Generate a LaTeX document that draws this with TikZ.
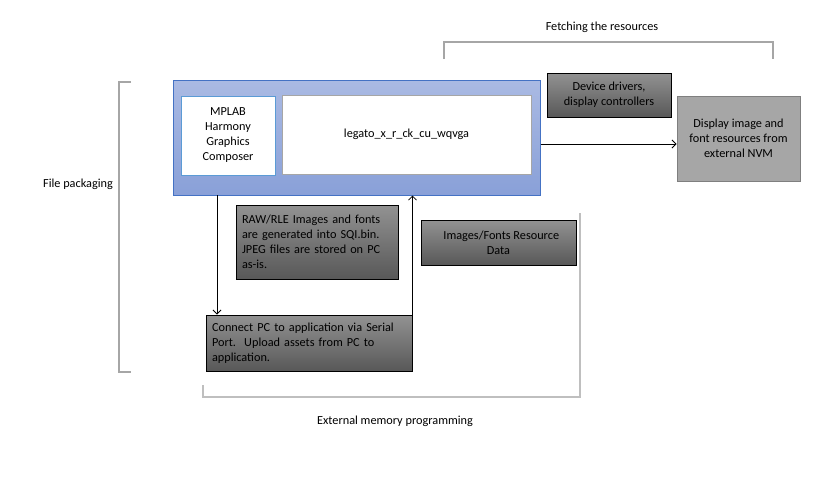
\documentclass[tikz,border=0pt]{standalone}
\usepackage{fontspec}
\setmainfont{Carlito}
\usetikzlibrary{arrows.meta}

\newlength{\du}
\setlength{\du}{0.75pt}

\definecolor{harmonyblue}{RGB}{68,114,196}
\definecolor{harmonytop}{RGB}{170,186,227}
\definecolor{harmonybot}{RGB}{137,160,216}
\definecolor{composerline}{RGB}{91,155,213}
\definecolor{darktop}{RGB}{146,146,146}
\definecolor{darkbot}{RGB}{88,88,88}
\definecolor{nvmfill}{RGB}{166,166,166}
\definecolor{nvmline}{RGB}{127,127,127}
\definecolor{bracketgray}{RGB}{166,166,166}
\definecolor{bracketpale}{RGB}{191,191,191}

\tikzset{
  txt/.style={font=\fontsize{9.2}{11.25}\selectfont, align=center, inner sep=0pt},
  darkbox/.style={txt, draw=black, line width=0.75pt, top color=darktop, bottom color=darkbot},
  leftbox/.style={darkbox, align=left, inner xsep=6\du},
  whitebox/.style={txt, fill=white, line width=0.75pt},
  flow/.style={draw=black, line width=0.6pt, -{Straight Barb[length=3pt,width=6pt]}},
  bracket/.style={draw=bracketgray, line width=1.5pt},
}

\begin{document}
\begin{tikzpicture}
\pgftransformxscale{1.000000}
\pgftransformyscale{-1.000000}
\useasboundingbox (0\du,0\du) rectangle (832\du,490\du);
% application block
\node[draw=harmonyblue, line width=0.75pt, top color=harmonytop, bottom color=harmonybot,
  minimum width=367\du, minimum height=115\du] (harmony) at (356.5\du,137.5\du){};
\node[whitebox, draw=composerline, minimum width=94\du, minimum height=79\du] (composer)
  at (228\du,135.5\du){MPLAB\\Harmony\\Graphics\\Composer};
\node[whitebox, draw=bracketgray, minimum width=249\du, minimum height=79\du] (legato)
  at (406.5\du,134.5\du){legato\_x\_r\_ck\_cu\_wqvga};
% fetching side
\node[darkbox, minimum width=124\du, minimum height=44\du] (drivers)
  at (609\du,95\du){Device drivers,\\display controllers};
\node[txt, draw=nvmline, fill=nvmfill, line width=0.75pt, minimum width=123\du, minimum height=85\du] (nvm)
  at (738.5\du,138.5\du){Display image and\\font resources from\\external NVM};
% programming side
\node[leftbox, text width=150\du, minimum height=74\du] (rawrle)
  at (317\du,242\du){RAW/RLE Images and fonts\\are generated into SQI.bin.\\JPEG files are stored on PC\\as-is.};
\node[darkbox, minimum width=155\du, minimum height=45\du] (resdata)
  at (498.5\du,242.5\du){\ \ Images/Fonts Resource\\Data};
\node[leftbox, text width=194\du, minimum height=56\du] (serial)
  at (309\du,343\du){Connect PC to application via Serial\\Port.\ \ Upload assets from PC to\\application.};
% connectors
\coordinate (down) at (217\du,195\du);
\draw[flow] (down) -- (down |- serial.north);
\draw[flow] (serial.north east) -- (serial.north east |- harmony.south);
\draw[flow] (harmony.east |- 0,144\du) -- (nvm.west |- 0,144\du);
% brackets
\draw[bracket] (444\du,59\du) -- (444\du,42\du) -- (773\du,42\du) -- (773\du,59\du);
\node[txt] (fetchlbl) at (602\du,27\du){Fetching the resources};
\draw[bracket] (131\du,82\du) -- (119\du,82\du) -- (119\du,372\du) -- (131\du,372\du);
\node[txt] (filelbl) at (78\du,184\du){File packaging};
\draw[bracket, draw=bracketpale] (203\du,385\du) -- (203\du,397\du) -- (580\du,397\du) -- (580\du,213\du);
\node[txt] (extlbl) at (395\du,421\du){External memory programming};
\end{tikzpicture}
\end{document}
